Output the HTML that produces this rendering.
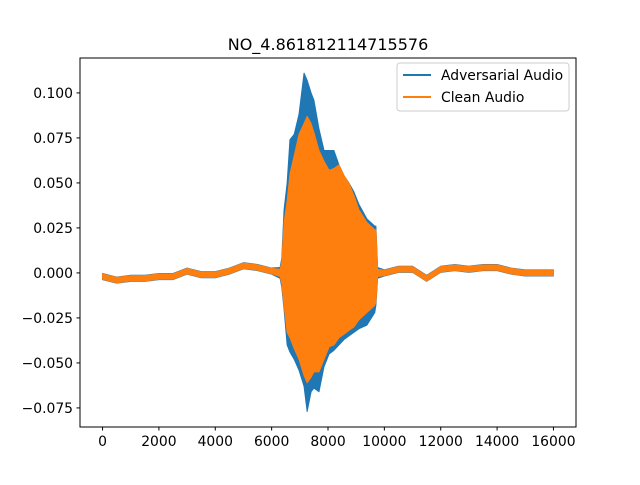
<!DOCTYPE html>
<html><head><meta charset="utf-8"><style>
body{margin:0;background:#fff}
svg text{font-family:"DejaVu Sans","Liberation Sans",sans-serif}
</style></head><body>
<svg id="chart" width="640" height="480" xmlns="http://www.w3.org/2000/svg">
<rect width="640" height="480" fill="#fff"/>
<text x="328" y="50" font-size="16" text-anchor="middle">NO_4.861812114715576</text>
<g id="plot"></g>
<g id="axes"></g>
<rect x="80" y="58" width="496" height="369" fill="none" stroke="#000" stroke-width="1"/>
<g>
<rect x="397" y="63" width="172" height="48" rx="3" fill="#fff" fill-opacity="0.8" stroke="#ccc"/>
<line x1="403" y1="75" x2="431" y2="75" stroke="#1f77b4" stroke-width="2"/>
<text x="441" y="80" font-size="13.9">Adversarial Audio</text>
<line x1="403" y1="97" x2="431" y2="97" stroke="#ff7f0e" stroke-width="2"/>
<text x="441" y="102" font-size="13.9">Clean Audio</text>
</g>
</svg>
<script>
const samples=[0,500,1000,1500,2000,2500,3000,3500,4000,4500,5000,5500,6000,6300,6360,6440,6550,6650,6800,6970,7150,7260,7400,7500,7680,7860,8040,8210,8390,8570,8740,8920,9100,9380,9660,9700,9760,10000,10500,11000,11500,12000,12500,13000,13500,14000,14500,15000,15500,16000];
const advHi=[-0.0003,-0.0023,-0.0013,-0.0013,-0.0003,-0.0003,0.0027,0.0007,0.0007,0.0027,0.0057,0.0047,0.0027,0.003,0.008,0.035,0.05,0.074,0.077,0.088,0.111,0.107,0.1,0.096,0.08,0.068,0.068,0.068,0.06,0.054,0.05,0.045,0.038,0.03,0.026,0.026,0.003,0.0017,0.0037,0.0037,-0.0013,0.0037,0.0047,0.0037,0.0047,0.0047,0.0027,0.0017,0.0017,0.0017];
const advLo=[-0.0037,-0.0057,-0.0047,-0.0047,-0.0037,-0.0037,-0.0007,-0.0027,-0.0027,-0.0007,0.0023,0.0013,-0.0007,-0.003,-0.008,-0.02,-0.04,-0.044,-0.048,-0.054,-0.063,-0.077,-0.066,-0.064,-0.066,-0.052,-0.045,-0.043,-0.04,-0.037,-0.035,-0.033,-0.031,-0.029,-0.022,-0.018,-0.003,-0.0017,0.0003,0.0003,-0.0047,0.0003,0.0013,0.0003,0.0013,0.0013,-0.0007,-0.0017,-0.0017,-0.0017];
const cleanHi=[-0.0005,-0.0025,-0.0015,-0.0015,-0.0005,-0.0005,0.0025,0.0005,0.0005,0.0025,0.0055,0.0045,0.0025,0.002,0.006,0.028,0.04,0.055,0.065,0.077,0.083,0.087,0.083,0.078,0.068,0.062,0.057,0.058,0.06,0.054,0.05,0.043,0.035,0.028,0.024,0.024,0.002,0.0015,0.0035,0.0035,-0.0015,0.0035,0.0045,0.0035,0.0045,0.0045,0.0025,0.0015,0.0015,0.0015];
const cleanLo=[-0.0035,-0.0055,-0.0045,-0.0045,-0.0035,-0.0035,-0.0005,-0.0025,-0.0025,-0.0005,0.0025,0.0015,-0.0005,-0.002,-0.006,-0.018,-0.033,-0.036,-0.042,-0.048,-0.057,-0.061,-0.058,-0.055,-0.055,-0.048,-0.041,-0.04,-0.036,-0.034,-0.032,-0.03,-0.026,-0.022,-0.018,-0.016,-0.002,-0.0015,0.0005,0.0005,-0.0045,0.0005,0.0015,0.0005,0.0015,0.0015,-0.0005,-0.0015,-0.0015,-0.0015];
const xTicks=[0,2000,4000,6000,8000,10000,12000,14000,16000];
const yTicks=[-0.075,-0.05,-0.025,0,0.025,0.05,0.075,0.1];
const yTickLabels=["−0.075","−0.050","−0.025","0.000","0.025","0.050","0.075","0.100"];
const X0=-800,X1=16800,Y0=-0.0856,Y1=0.1194;
const sx=v=>80+(v-X0)/(X1-X0)*496;
const sy=v=>427-(v-Y0)/(Y1-Y0)*369;
const NS="http://www.w3.org/2000/svg";
const plot=document.getElementById('plot'),axes=document.getElementById('axes');
function band(hi,lo,color,name){
  let pts=[];
  for(let i=0;i<samples.length;i++)pts.push(sx(samples[i])+','+sy(hi[i]));
  for(let i=samples.length-1;i>=0;i--)pts.push(sx(samples[i])+','+sy(lo[i]));
  const p=document.createElementNS(NS,'polygon');
  p.setAttribute('points',pts.join(' '));
  p.setAttribute('fill',color);p.setAttribute('stroke',color);p.setAttribute('stroke-width','1');p.setAttribute('stroke-linejoin','round');
  
  
  plot.appendChild(p);
}
band(advHi,advLo,'#1f77b4','adversarial-audio-series');
band(cleanHi,cleanLo,'#ff7f0e','clean-audio-series');
xTicks.forEach(t=>{
  const x=sx(t);
  const l=document.createElementNS(NS,'line');
  l.setAttribute('x1',x);l.setAttribute('x2',x);l.setAttribute('y1',427);l.setAttribute('y2',430.5);l.setAttribute('stroke','#000');
  
  
  axes.appendChild(l);
  const tx=document.createElementNS(NS,'text');
  tx.setAttribute('x',x);tx.setAttribute('y',446);tx.setAttribute('font-size','13.9');tx.setAttribute('text-anchor','middle');
  tx.textContent=String(t);
  
  
  axes.appendChild(tx);
});
yTicks.forEach((t,i)=>{
  const y=sy(t);
  const l=document.createElementNS(NS,'line');
  l.setAttribute('x1',76.5);l.setAttribute('x2',80);l.setAttribute('y1',y);l.setAttribute('y2',y);l.setAttribute('stroke','#000');
  
  
  axes.appendChild(l);
  const tx=document.createElementNS(NS,'text');
  tx.setAttribute('x',73);tx.setAttribute('y',y+5);tx.setAttribute('font-size','13.9');tx.setAttribute('text-anchor','end');
  tx.textContent=yTickLabels[i];
  
  
  axes.appendChild(tx);
});
</script>
</body></html>
